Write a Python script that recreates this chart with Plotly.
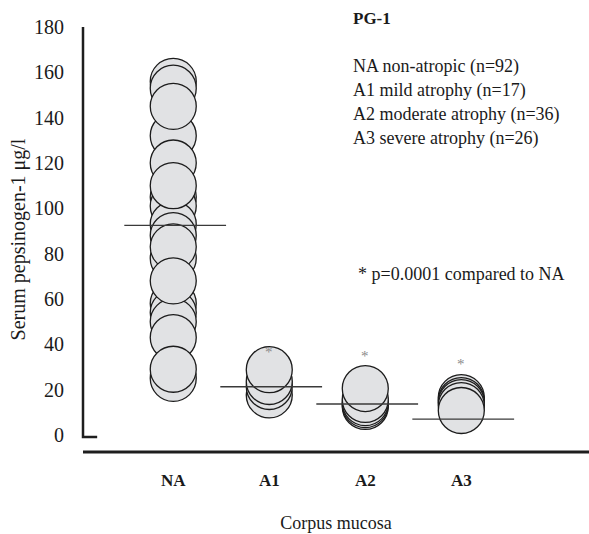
import plotly.graph_objects as go

# ---- data ----
categories = ["NA", "A1", "A2", "A3"]
# individual serum PG-1 values (µg/l), ordered so overlapping circles stack like the figure
na_values = [156, 153, 132, 120, 105, 101, 93, 88, 78, 58, 54, 50, 43, 25, 145, 110, 83, 68, 29]
a1_values = [17.7, 21.4, 23.6, 28.8]
a2_values = [12.6, 13.4, 14.3, 15.7, 20.5]
a3_values = [16.5, 15.2, 14.3, 13.0, 10.8]
group_means = [92.5, 21.3, 13.7, 7.0]
star_groups = ["A1", "A2", "A3"]
star_y = [36.6, 34.8, 31.3]
y_ticks = [0, 20, 40, 60, 80, 100, 120, 140, 160, 180]
legend_lines = [
    "NA non-atropic (n=92)",
    "A1 mild atrophy (n=17)",
    "A2 moderate atrophy (n=36)",
    "A3 severe atrophy (n=26)",
]

SERIF = "Liberation Serif"
FILL = "#e1e2e4"
EDGE = "#1c1c1c"

fig = go.Figure()
groups = [na_values, a1_values, a2_values, a3_values]
for cat, vals in zip(categories, groups):
    fig.add_trace(go.Scatter(
        x=[cat] * len(vals), y=vals, mode="markers",
        marker=dict(size=46, color=FILL, line=dict(color=EDGE, width=1.3)),
        cliponaxis=False, showlegend=False, hoverinfo="y",
    ))

# mean lines
for i, m in enumerate(group_means):
    fig.add_shape(type="line", xref="x", yref="y",
                  x0=i - 0.51, x1=i + 0.55, y0=m, y1=m,
                  line=dict(color="#3a3a3a", width=1.4))

# significance stars
for g, yv in zip(star_groups, star_y):
    fig.add_annotation(x=g, y=yv, xref="x", yref="y", text="*", showarrow=False,
                       font=dict(family=SERIF, size=15, color="#8a8a8a"))

# axes drawn as shapes (L-shaped y axis, long x axis)
fig.add_shape(type="path", xref="paper", yref="y",
              path="M 0,180 L 0,-0.9 L 0.028,-0.9",
              line=dict(color="#1e1e1e", width=2.5))
fig.add_shape(type="line", xref="paper", yref="paper", x0=0, x1=1, y0=0, y1=0,
              line=dict(color="#1e1e1e", width=3))

# texts
fig.add_annotation(x=0.530, y=1.021, xref="paper", yref="paper", xanchor="left",
                   yanchor="middle", text="<b>PG-1</b>", showarrow=False,
                   font=dict(family=SERIF, size=17, color="#1a1a1a"))
for k, line in enumerate(legend_lines):
    fig.add_annotation(x=0.530, y=0.906 - k * 0.0565, xref="paper", yref="paper",
                       xanchor="left", yanchor="middle", text=line, showarrow=False,
                       font=dict(family=SERIF, size=18, color="#1a1a1a"))
fig.add_annotation(x=0.540, y=0.419, xref="paper", yref="paper", xanchor="left",
                   yanchor="middle", text="* p=0.0001 compared to NA", showarrow=False,
                   font=dict(family=SERIF, size=18, color="#1a1a1a"))

fig.update_layout(
    width=589, height=534,
    margin=dict(l=83, r=0, t=27, b=82),
    paper_bgcolor="white", plot_bgcolor="white",
    font=dict(family=SERIF, color="#1a1a1a"),
    showlegend=False,
    xaxis=dict(
        type="category", categoryorder="array", categoryarray=categories,
        range=[-0.94, 4.33], showgrid=False, zeroline=False, showline=False,
        ticks="", ticklabelstandoff=16,
        tickfont=dict(family=SERIF, size=17, weight="bold", color="#1a1a1a"),
        title=dict(text="Corpus mucosa", standoff=27,
                   font=dict(family=SERIF, size=18, color="#1a1a1a")),
    ),
    yaxis=dict(
        range=[-7.5, 180], tickvals=y_ticks, showgrid=False, zeroline=False,
        showline=False, ticks="", ticklabelstandoff=18,
        tickfont=dict(family=SERIF, size=20, color="#1a1a1a"),
        title=dict(text="Serum pepsinogen-1 μg/l", standoff=3,
                   font=dict(family=SERIF, size=20, color="#1a1a1a")),
    ),
)

fig.write_html("out.html", config={"displayModeBar": False},
               post_script="document.body.style.margin='0px';document.body.style.padding='0px';")
